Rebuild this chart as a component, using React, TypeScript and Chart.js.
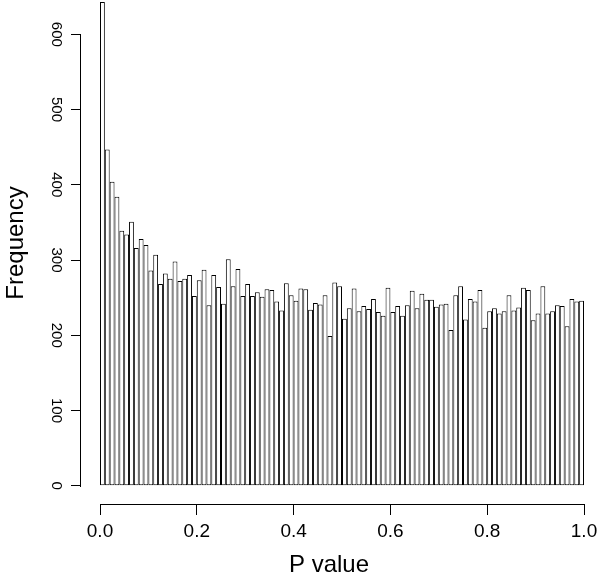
import React, { useEffect, useRef } from "react";
import { Chart, registerables } from "chart.js";

Chart.register(...registerables);

// Histogram of P values: 100 bins of width 0.01 on [0, 1]
const BIN_WIDTH = 0.01;
const counts: number[] = [
  643, 447, 404, 384, 339, 334, 351, 316, 328, 320,
  286, 307, 268, 282, 275, 298, 272, 275, 280, 252,
  273, 287, 240, 280, 264, 242, 301, 265, 288, 252,
  268, 252, 257, 251, 261, 260, 245, 233, 269, 253,
  246, 262, 261, 234, 243, 241, 253, 199, 270, 265,
  222, 236, 262, 232, 239, 235, 248, 231, 226, 263,
  231, 239, 226, 240, 259, 236, 255, 247, 247, 238,
  241, 242, 207, 253, 265, 221, 248, 245, 260, 210,
  232, 236, 229, 232, 253, 233, 237, 263, 260, 220,
  229, 265, 229, 232, 240, 239, 212, 248, 245, 246,
];
const binCenters: number[] = counts.map((_, i) => (i + 0.5) * BIN_WIDTH);

const xTickValues: number[] = [0, 0.2, 0.4, 0.6, 0.8, 1.0];
const yTickValues: number[] = [0, 100, 200, 300, 400, 500, 600];
const xTitle = "P value";
const yTitle = "Frequency";

// layout (pixels)
const W = 600;
const H = 578;
const LEFT = 81; // chart area left
const BOTTOM_AXIS_H = 73; // x-axis band height
const PX_X0 = 100; // pixel of x = 0
const PX_X1 = 584; // pixel of x = 1
const PX_Y0 = 485.7; // pixel of y = 0
const PX_Y600 = 34.3; // pixel of y = 600

const xPerPx = 1 / (PX_X1 - PX_X0);
const xMin = (LEFT - PX_X0) * xPerPx;
const xMax = (W - PX_X0) * xPerPx;
const yPerPx = 600 / (PX_Y0 - PX_Y600);
const plotBottom = H - BOTTOM_AXIS_H;
const yMin = -(plotBottom - PX_Y0) * yPerPx;
const yMax = PX_Y0 * yPerPx;

const FONT = '"Liberation Sans", Arial, Helvetica, sans-serif';

const rAxesPlugin = {
  id: "rAxes",
  afterDraw(chart: any) {
    const { ctx, scales, chartArea } = chart;
    const x = scales.x;
    const y = scales.y;
    ctx.save();
    ctx.strokeStyle = "#000";
    ctx.lineWidth = 1;
    ctx.beginPath();
    const yb = Math.round(chartArea.bottom) - 0.5;
    ctx.moveTo(Math.round(x.getPixelForValue(xTickValues[0])), yb);
    ctx.lineTo(Math.round(x.getPixelForValue(xTickValues[xTickValues.length - 1])) + 1, yb);
    const xl = Math.round(chartArea.left) - 0.5;
    ctx.moveTo(xl, Math.round(y.getPixelForValue(yTickValues[0])) + 1);
    ctx.lineTo(xl, Math.round(y.getPixelForValue(yTickValues[yTickValues.length - 1])));
    ctx.stroke();

    ctx.fillStyle = "#000";
    ctx.font = `24px ${FONT}`;
    ctx.textAlign = "center";
    ctx.textBaseline = "alphabetic";
    ctx.fillText(xTitle, 329, 572);
    ctx.translate(23, 243);
    ctx.rotate(-Math.PI / 2);
    ctx.fillText(yTitle, 0, 0);
    ctx.restore();
  },
};

export default function App() {
  const ref = useRef<HTMLCanvasElement>(null);

  useEffect(() => {
    if (!ref.current) return;
    const chart = new Chart(ref.current, {
      type: "bar",
      data: {
        datasets: [
          {
            data: counts.map((c, i) => ({ x: binCenters[i], y: c })),
            backgroundColor: "#ffffff",
            borderColor: "#000000",
            borderWidth: 1,
            borderSkipped: false,
            barPercentage: 1,
            categoryPercentage: 1,
            inflateAmount: 0,
          } as any,
        ],
      },
      options: {
        responsive: false,
        animation: false,
        events: [],
        layout: { padding: 0 },
        plugins: {
          legend: { display: false },
          tooltip: { enabled: false },
          title: { display: false },
        },
        scales: {
          x: {
            type: "linear",
            bounds: "data",
            offset: false,
            min: xMin,
            max: xMax,
            afterBuildTicks: (s: any) => {
              s.ticks = xTickValues.map((v) => ({ value: v }));
            },
            afterFit: (s: any) => {
              s.height = BOTTOM_AXIS_H;
              s.paddingLeft = 0;
              s.paddingRight = 0;
              s.paddingTop = 0;
              s.paddingBottom = 0;
            },
            grid: {
              display: true,
              offset: false,
              drawOnChartArea: false,
              drawTicks: true,
              tickLength: 10,
              color: "#000",
              lineWidth: 1,
            },
            border: { display: false },
            ticks: {
              autoSkip: false,
              minRotation: 0,
              maxRotation: 0,
              padding: 5,
              color: "#000",
              font: { family: FONT, size: 19 },
              callback: (v: any) => Number(v).toFixed(1),
            },
          },
          y: {
            type: "linear",
            bounds: "data",
            min: yMin,
            max: yMax,
            afterBuildTicks: (s: any) => {
              s.ticks = yTickValues.map((v) => ({ value: v }));
            },
            afterFit: (s: any) => {
              s.width = LEFT;
              s.paddingLeft = 0;
              s.paddingRight = 0;
              s.paddingTop = 0;
              s.paddingBottom = 0;
            },
            grid: {
              display: true,
              drawOnChartArea: false,
              drawTicks: true,
              tickLength: 10,
              color: "#000",
              lineWidth: 1,
            },
            border: { display: false },
            ticks: {
              autoSkip: false,
              minRotation: -90,
              maxRotation: -90,
              crossAlign: "center",
              padding: 2,
              color: "#000",
              font: { family: FONT, size: 15 },
              callback: (v: any) => String(Math.round(Number(v))),
            },
          },
        },
      } as any,
      plugins: [rAxesPlugin],
    });
    return () => chart.destroy();
  }, []);

  return (
    <div style={{ position: "absolute", left: 0, top: 0, width: W, height: H, background: "#fff" }}>
      <canvas ref={ref} width={W} height={H} style={{ display: "block" }} />
    </div>
  );
}
